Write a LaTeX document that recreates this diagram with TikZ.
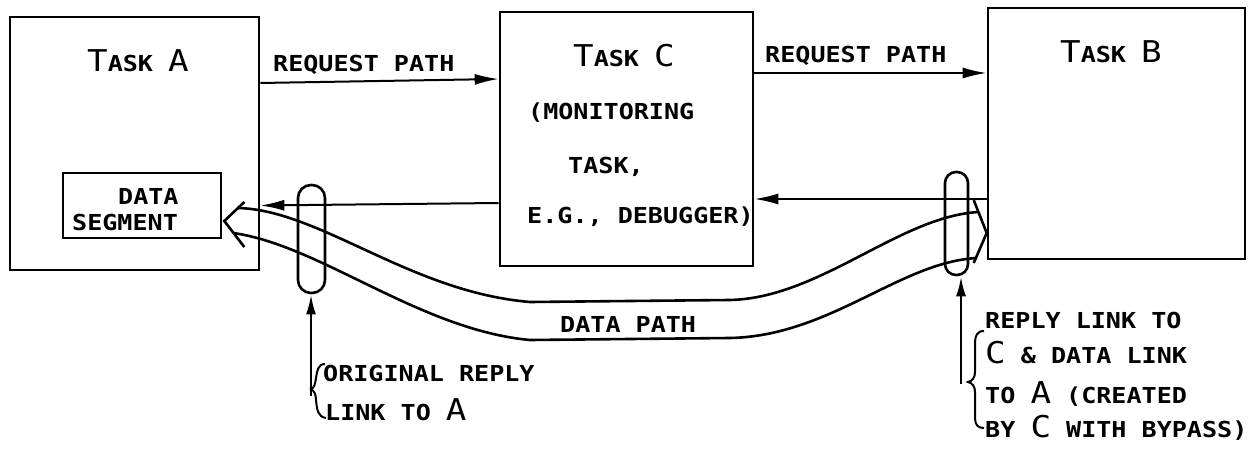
\documentclass[tikz,border=0pt]{standalone}
\usepackage{fontspec}
\usetikzlibrary{arrows.meta,calc}
\newfontfamily\lrfont[FakeStretch=1.14]{DejaVu Sans Mono}
\newcommand\nsz{\fontsize{22}{26}\selectfont}
\newcommand\BG[1]{{\fontsize{30}{34}\selectfont\mdseries #1}}
\begin{document}
\begin{tikzpicture}[x=1pt,y=-1pt,
  box/.style={draw, line width=2.6pt, inner sep=0pt},
  txt/.style={inner sep=0pt, anchor=base west, font=\lrfont\bfseries\nsz},
  conn/.style={line width=2pt, -{Latex[length=24pt,width=11pt]}},
  upconn/.style={line width=2.6pt, -{Latex[length=20pt,width=10pt]}},
  dp/.style={line width=2.6pt, line join=miter},
  linkoval/.style={draw, line width=2.6pt, inner sep=0pt},
  bracepath/.style={line width=2pt}
]
\useasboundingbox (0,0) rectangle (1256,449);
% boxes
\node[box, minimum width=249pt, minimum height=253pt] (A) at (134.5,143.5) {};
\node[box, minimum width=253pt, minimum height=254pt] (C) at (626.5,139) {};
\node[box, minimum width=257pt, minimum height=251pt] (B) at (1116.5,133.5) {};
\node[box, minimum width=158pt, minimum height=65pt] (DS) at (142,205.5) {};
% titles
\node[txt] (tA) at (87,72) {\BG{T}ASK \BG{A}};
\node[txt] (tB) at (1060,63) {\BG{T}ASK \BG{B}};
\node[txt] (tC1) at (573,67) {\BG{T}ASK \BG{C}};
\node[txt] (tC2) at (528,120) {(MONITORING};
\node[txt] (tC3) at (568,174) {TASK,};
\node[txt] (tC4) at (527,224) {E.G., DEBUGGER)};
\node[txt] (ds1) at (118,205) {DATA};
\node[txt] (ds2) at (72,231) {SEGMENT};
% request / reply paths
\draw[conn] ([yshift=60.5pt]A.east) -- ([yshift=60pt]C.west);
\node[txt] (rq1) at (273,72) {REQUEST PATH};
\draw[conn] ([yshift=66pt]C.east) -- ([yshift=60.5pt]B.west);
\node[txt] (rq2) at (765,63) {REQUEST PATH};
\draw[conn] ([yshift=-65.5pt]B.west) -- ([yshift=-60pt]C.east);
\draw[conn] ([yshift=-64pt]C.west) -- ([yshift=-62pt]A.east);
% data path
\coordinate (la) at ([xshift=2pt,yshift=-15.5pt]DS.east);
\coordinate (ra) at ([yshift=-99.5pt]B.west);
\draw[dp] ($(la)+(20,-19)$) -- (la) -- ($(la)+(20,26)$);
\draw[dp] ($(ra)+(-13,-33)$) -- (ra) -- ($(ra)+(-13,30)$);
\draw[dp] (238,208) .. controls (320,210) and (410,292) .. (530,302)
   -- (730,300) .. controls (820,298) and (900,216) .. (979,212);
\draw[dp] (233,233) .. controls (320,245) and (420,330) .. (530,340)
   -- (730,338) .. controls (830,336) and (900,262) .. (977,258);
\node[txt] (dpl) at (560,332) {DATA PATH};
% link ovals
\node[linkoval, minimum width=27pt, minimum height=108pt, rounded corners=13pt] (L1) at (311.5,239) {};
\node[linkoval, minimum width=23pt, minimum height=103pt, rounded corners=11pt] (L2) at (956.5,223.5) {};
\coordinate (s1) at (311,396);
\coordinate (s2) at (961,384);
\draw[upconn] (s1) -- (s1 |- L1.south);
\draw[upconn] (s2) -- (s2 |- L2.south);
% braces
\draw[bracepath] (325,364) .. controls (318,364) and (317,371) .. (316,378)
  .. controls (315,385) and (314,388) .. (311,389)
  .. controls (314,391) and (316,394) .. (316,400)
  .. controls (317,410) and (318,417) .. (326,418);
\draw[bracepath] (984,331) .. controls (977,331) and (975,336) .. (975,343) -- (975,372)
  .. controls (975,378) and (972,381) .. (968,382)
  .. controls (972,383) and (975,386) .. (975,392) -- (975,418)
  .. controls (975,425) and (978,428) .. (984,428);
% annotations
\node[txt] (o1) at (323,381) {ORIGINAL REPLY};
\node[txt] (o2) at (325,420) {LINK TO \BG{A}};
\node[txt] (r1) at (985,328) {REPLY LINK TO};
\node[txt] (r2) at (985,363) {\BG{C} \& DATA LINK};
\node[txt] (r3) at (985,403) {TO \BG{A} (CREATED};
\node[txt] (r4) at (985,437) {BY \BG{C} WITH BYPASS)};
\end{tikzpicture}
\end{document}
